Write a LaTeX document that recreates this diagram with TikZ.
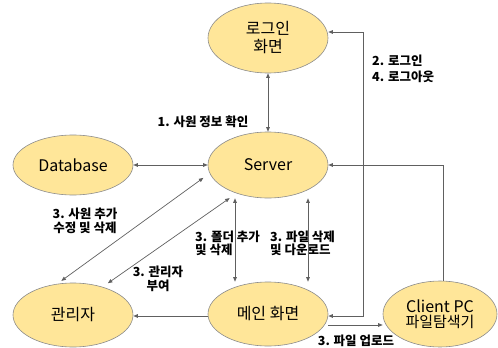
\documentclass[tikz,border=0pt]{standalone}
\usepackage{fontspec}
\setmainfont{Noto Sans CJK KR}
\usetikzlibrary{shapes.geometric,arrows.meta}
\definecolor{efill}{HTML}{FFE699}
\definecolor{eline}{HTML}{8C8C8C}
\definecolor{cline}{HTML}{606060}
\tikzset{
  ell/.style={ellipse,draw=eline,fill=efill,line width=0.6pt,inner sep=0pt,
    minimum width=120pt,minimum height=66pt,align=center,
    font=\fontsize{16}{18}\selectfont},
  lbl/.style={inner sep=0pt,font=\bfseries\fontsize{12.5}{13.5}\selectfont},
  conn/.style={draw=cline,line width=0.7pt},
  tip/.tip={Triangle[length=4.5pt,width=3.6pt]}
}
\begin{document}
\begin{tikzpicture}[x=1pt,y=-1pt]
\useasboundingbox (0,0) rectangle (498,348);
\node[ell,minimum height=70pt] (login) at (268,38) {로그인\\화면};
\node[ell] (server) at (268,165) {Server};
\node[ell,minimum height=60pt] (db) at (73,165) {Database};
\node[ell,minimum height=64pt] (admin) at (73,315) {관리자};
\node[ell,minimum height=64pt] (main) at (268,314) {메인 화면};
\node[ell,minimum width=114pt,font=\fontsize{16}{15}\selectfont] (client) at (440,314) {Client PC\\{\fontsize{15}{15}\selectfont 파일탐색기}};

\node[lbl] (l1) at (203,122) {1. 사원 정보 확인};
\node[lbl,anchor=west,align=left,font=\bfseries\fontsize{12.5}{16}\selectfont] (l2) at (372,69) {2. 로그인\\4. 로그아웃};
\node[lbl,align=center] (l3) at (85,221) {3. 사원 추가\\수정 및 삭제};
\node[lbl,align=center] (l4) at (158,279) {3. 관리자\\부여};
\node[lbl,anchor=west,align=left] (l5) at (195,243.5) {3. 폴더 추가\\및 삭제};
\node[lbl,anchor=west,align=left] (l6) at (270,243.5) {3. 파일 삭제\\및 다운로드};
\node[lbl] (l7) at (356,341) {3. 파일 업로드};

\draw[conn,{tip}-{tip}] (server.north) -- (login.south);
\draw[conn,{tip}-{tip}] (db.east) -- (server.west);
\draw[conn,-{tip}] ([xshift=3pt]client.north) |- (server.east);
\draw[conn,{tip}-{tip}] ([yshift=-2pt]main.east) -- ++(35,0) |- ([yshift=6pt]login.east);
\draw[conn,{tip}-{tip}] ([shift={(-6pt,2pt)}]admin.100) -- ([xshift=-9pt]server.193);
\draw[conn,{tip}-{tip}] ([shift={(4pt,4pt)}]admin.42) -- ([shift={(-6pt,-5pt)}]server.221);
\draw[conn,{tip}-{tip}] ([xshift=-33pt]server.south) -- ([xshift=-33pt]main.north);
\draw[conn,{tip}-{tip}] ([xshift=40pt]server.south) -- ([xshift=40pt]main.north);
\draw[conn,-{tip}] ([yshift=-2pt]main.west) -- ([yshift=-2pt]main.west -| admin.east);
\draw[conn,-{tip}] ([yshift=-11pt]main.east) -- ([yshift=-11pt]main.east -| client.west);
\end{tikzpicture}
\end{document}
